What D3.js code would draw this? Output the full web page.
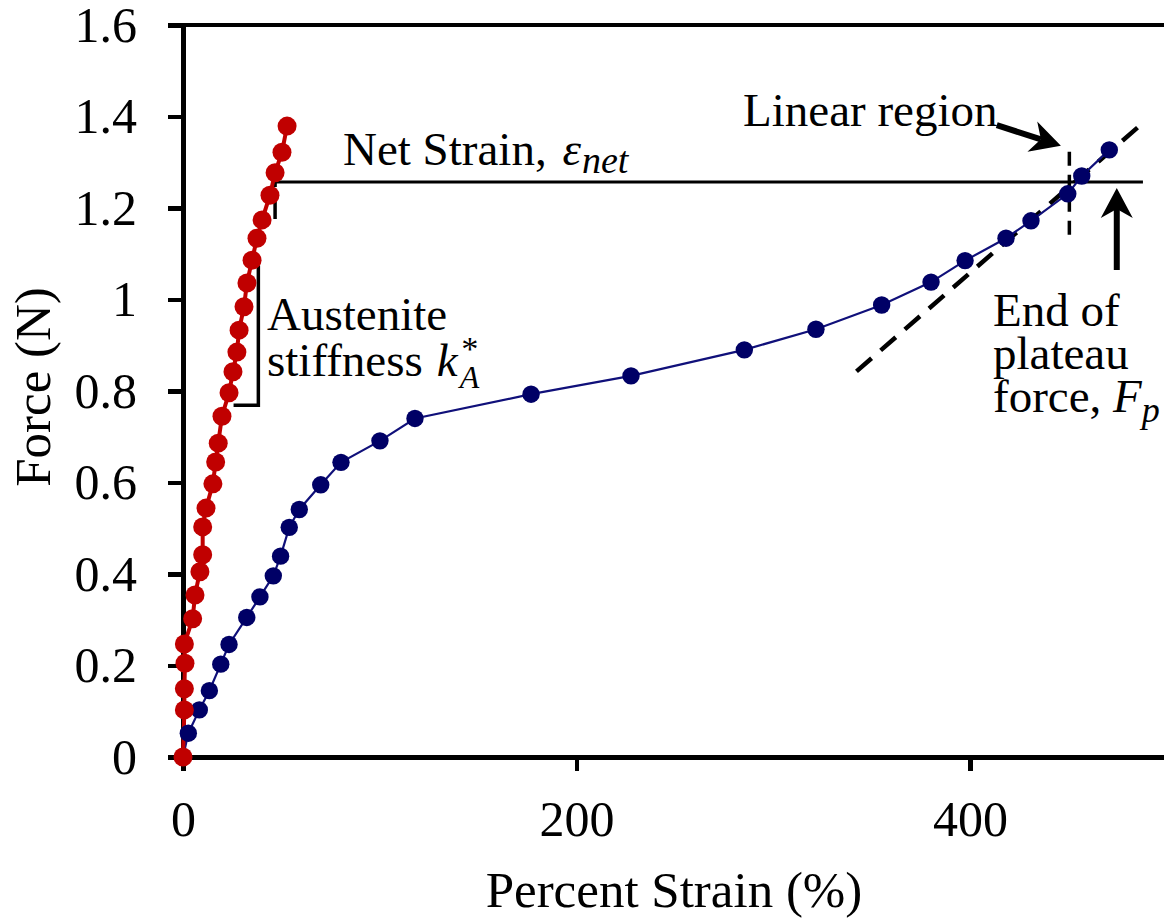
<!DOCTYPE html>
<meta charset="utf-8">
<style>
body { margin: 0; background: #fff; }
svg { display: block; }
text { font-family: "Liberation Serif", "Times New Roman", serif; fill: #000; }
.axis path, .axis line { stroke: #000; stroke-width: 4.5; shape-rendering: crispEdges; }
.axis text { font-size: 50px; font-family: "Liberation Serif", serif; }
</style>
<body>
<div id="graph"></div>
<script src="https://d3js.org/d3.v7.min.js"></script>
<script>
// austenite (red) loading curve
var strain_red = [0, 0.7, 0.7, 1.0, 0.7, 4.9, 6.1, 8.6, 10.0, 10.0, 11.7, 15.2, 16.6, 17.9, 19.8,
                  23.4, 25.4, 27.4, 28.5, 31.0, 32.5, 35.1, 37.6, 40.2, 44.2, 46.8, 50.3, 52.9];
var force_red  = [0, 0.103, 0.149, 0.205, 0.247, 0.302, 0.354, 0.405, 0.442, 0.503, 0.544, 0.597, 0.645, 0.686, 0.745,
                  0.796, 0.842, 0.885, 0.933, 0.984, 1.036, 1.086, 1.134, 1.174, 1.228, 1.277, 1.322, 1.379];

// martensite (blue) loading curve
var strain_blue = [0, 2.7, 8.3, 13.4, 19.2, 23.4, 32.4, 39.1, 45.9, 49.6, 54.0, 59.1, 70.0, 80.3, 100.1, 117.9,
                   176.9, 227.7, 285.3, 321.7, 355.1, 380.2, 397.5, 418.3, 431.0, 449.7, 456.8, 470.8];
var force_blue  = [0, 0.052, 0.103, 0.145, 0.203, 0.246, 0.305, 0.350, 0.396, 0.439, 0.502, 0.541, 0.595, 0.644, 0.691, 0.740,
                   0.793, 0.833, 0.890, 0.935, 0.988, 1.038, 1.085, 1.134, 1.172, 1.231, 1.270, 1.327];

var x_ticks = [0, 200, 400];
var y_ticks = [0, 0.2, 0.4, 0.6, 0.8, 1, 1.2, 1.4, 1.6];

var W = 1164, H = 919;
var svg = d3.select("#graph").append("svg").attr("width", W).attr("height", H);

var x = d3.scaleLinear().domain([0, 500]).range([183, 183 + 500 * 1.9675]);
var y = d3.scaleLinear().domain([0, 1.6]).range([757, 25]);

// axes
svg.append("g").attr("class", "axis")
  .attr("transform", "translate(0,757)")
  .call(d3.axisBottom(x).tickValues(x_ticks).tickSize(14).tickSizeOuter(0).tickPadding(29).tickFormat(d3.format("d")));

svg.append("g").attr("class", "axis")
  .attr("transform", "translate(183,0)")
  .call(d3.axisLeft(y).tickValues(y_ticks).tickSize(15).tickSizeOuter(0).tickPadding(31).tickFormat(function(d) { return String(d); }));

// top frame line
svg.append("line")
  .attr("x1", x(0) - 15).attr("x2", x(500))
  .attr("y1", y(1.6)).attr("y2", y(1.6))
  .attr("stroke", "#000").attr("stroke-width", 4.5).style("shape-rendering", "crispEdges");

svg.append("text").attr("x", 674).attr("y", 907).attr("text-anchor", "middle")
  .style("font-size", "51px").text("Percent Strain (%)");
svg.append("text").attr("transform", "translate(50,387) rotate(-90)").attr("text-anchor", "middle")
  .style("font-size", "51px").text("Force (N)");

// annotation lines (data units)
function seg(pts, width, dash) {
  var p = svg.append("path")
    .attr("d", d3.line().x(function(d) { return x(d[0]); }).y(function(d) { return y(d[1]); })(pts))
    .attr("fill", "none").attr("stroke", "#000").attr("stroke-width", width);
  if (dash) p.attr("stroke-dasharray", dash);
  return p;
}
function arrow(from, to) {
  var x0 = x(from[0]), y0 = y(from[1]), x1 = x(to[0]), y1 = y(to[1]);
  var a = Math.atan2(y1 - y0, x1 - x0), len = 30, hw = 16, notch = 21;
  var bx = x1 - len * Math.cos(a), by = y1 - len * Math.sin(a);
  var nx = x1 - notch * Math.cos(a), ny = y1 - notch * Math.sin(a);
  svg.append("line").attr("x1", x0).attr("y1", y0).attr("x2", nx).attr("y2", ny)
    .attr("stroke", "#000").attr("stroke-width", 6);
  svg.append("path")
    .attr("d", "M" + x1 + "," + y1 +
      "L" + (bx + hw * Math.sin(a)) + "," + (by - hw * Math.cos(a)) +
      "L" + nx + "," + ny +
      "L" + (bx - hw * Math.sin(a)) + "," + (by + hw * Math.cos(a)) + "Z")
    .attr("fill", "#000");
}

seg([[342.3, 0.843], [487.9, 1.386]], 4.5, "20,12");
seg([[46.8, 1.257], [487.9, 1.257]], 3);
seg([[46.8, 1.294], [46.8, 1.167]], 3.5, "22,10");
seg([[450.5, 1.323], [450.5, 1.130]], 3.5, "14,9");
seg([[25.7, 0.769], [38.3, 0.769], [38.3, 1.075]], 3.5);

// curves
var blue = strain_blue.map(function(s, i) { return [s, force_blue[i]]; });
var red = strain_red.map(function(s, i) { return [s, force_red[i]]; });
var line = d3.line().x(function(d) { return x(d[0]); }).y(function(d) { return y(d[1]); });

svg.append("path").datum(blue).attr("d", line).attr("fill", "none").attr("stroke", "#10107a").attr("stroke-width", 2.2);
svg.append("path").datum(red).attr("d", line).attr("fill", "none").attr("stroke", "#c00000").attr("stroke-width", 4);

svg.selectAll("circle.blue").data(blue).enter().append("circle").attr("class", "blue")
  .attr("cx", function(d) { return x(d[0]); }).attr("cy", function(d) { return y(d[1]); })
  .attr("r", 8.7).attr("fill", "#000066");
svg.selectAll("circle.red").data(red).enter().append("circle").attr("class", "red")
  .attr("cx", function(d) { return x(d[0]); }).attr("cy", function(d) { return y(d[1]); })
  .attr("r", 9.5).attr("fill", "#c00000");

arrow([413.6, 1.381], [446.2, 1.336]);
arrow([474.6, 1.0645], [474.6, 1.2437]);

// annotation text
var fs = 47;
var t1 = svg.append("text").attr("x", 343).attr("y", 165).style("font-size", fs + "px");
t1.append("tspan").text("Net Strain, ");
t1.append("tspan").style("font-style", "italic").attr("dx", 4).text("\u03b5");
t1.append("tspan").style("font-style", "italic").style("font-size", "38px").attr("dx", 1).attr("dy", 8).text("net");

svg.append("text").attr("x", 743).attr("y", 126).style("font-size", fs + "px").text("Linear region");

var t3 = svg.append("text").attr("x", 267).attr("y", 330).style("font-size", fs + "px");
t3.append("tspan").attr("x", 267).text("Austenite");
t3.append("tspan").attr("x", 267).attr("dy", 46).text("stiffness");
t3.append("tspan").attr("dx", 14).style("font-style", "italic").text("k");
t3.append("tspan").attr("dx", 2).attr("dy", -16).style("font-style", "italic").style("font-size", "34px").text("*");
t3.append("tspan").attr("dx", -17).attr("dy", 28).style("font-style", "italic").style("font-size", "32px").text("A");

var t2 = svg.append("text").attr("x", 993).attr("y", 326).style("font-size", fs + "px");
t2.append("tspan").attr("x", 993).text("End of");
t2.append("tspan").attr("x", 993).attr("dy", 43).text("plateau");
t2.append("tspan").attr("x", 993).attr("dy", 43).text("force, ");
t2.append("tspan").style("font-style", "italic").text("F");
t2.append("tspan").style("font-style", "italic").style("font-size", "36px").attr("dy", 10).text("p");
</script>
</body>
